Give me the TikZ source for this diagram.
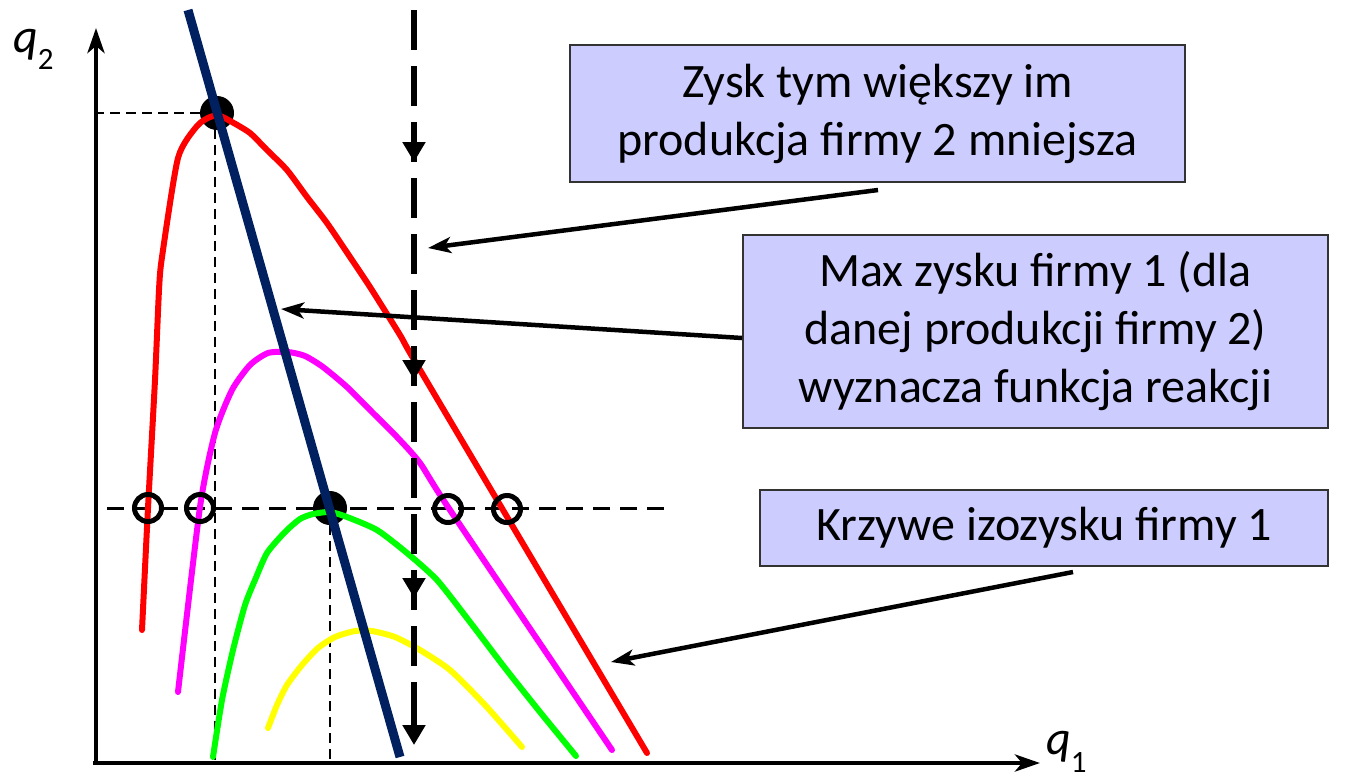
\documentclass[tikz,border=0pt]{standalone}
\usepackage{fontspec}
\setmainfont{Carlito}
\usetikzlibrary{arrows.meta}
\definecolor{lavender}{HTML}{CCCCFF}
\definecolor{navyline}{HTML}{002060}
\definecolor{isored}{HTML}{FF0000}
\definecolor{isomagenta}{HTML}{FF00FF}
\definecolor{isogreen}{HTML}{00FF00}
\definecolor{isoyellow}{HTML}{FFFF00}
\begin{document}
\begin{tikzpicture}[x=1pt,y=-1pt,
  axis/.style={line width=4.5pt,-{Stealth[length=25pt,width=17pt,inset=7pt]}},
  pointer/.style={line width=4.5pt,-{Stealth[length=23pt,width=16pt,inset=6pt]}},
  guide/.style={line width=2.8pt,dash pattern=on 10pt off 6pt},
  levelguide/.style={line width=3pt,dash pattern=on 17pt off 10pt},
  shiftline/.style={line width=6.5pt,dash pattern=on 40pt off 16pt},
  shifttip/.style={line width=6.5pt,-{Triangle[length=20pt,width=22pt]}},
  iso/.style={line width=6pt,line cap=round,line join=round},
  note/.style={draw=black!80,line width=2pt,fill=lavender,align=center,inner sep=0pt,
    font=\fontsize{48}{58}\selectfont},
  dot/.style={circle,fill=black,minimum size=34pt,inner sep=0pt},
  ring/.style={circle,draw=black,line width=5pt,minimum size=27pt,inner sep=0pt},
  axlabel/.style={inner sep=0pt,anchor=base west}]
\useasboundingbox (0,0) rectangle (1365,780);

% axes
\coordinate (O) at (96,763);
\coordinate (ytop) at (96,28);
\coordinate (xend) at (1040,763);
\draw[axis] (93,763) -- (xend);
\draw[axis] (O) -- (ytop);
\node[axlabel] (lq2) at (13,52) {\fontsize{48}{48}\selectfont\itshape q\upshape\fontsize{31}{31}\selectfont\raisebox{-17pt}{2}};
\node[axlabel] (lq1) at (1046,754) {\fontsize{48}{48}\selectfont\itshape q\upshape\fontsize{31}{31}\selectfont\raisebox{-18pt}{1}};

% equilibrium points
\node[dot] (eqA) at (217,113) {};
\node[dot] (eqB) at (330,508) {};
\coordinate (eqAy) at (97,113);
\coordinate (eqAx) at (215,760);
\coordinate (eqBx) at (330,760);
\coordinate (lvlL) at (107,508);
\coordinate (lvlR) at (670,508);

% guide lines
\draw[guide] (eqA.west) -- (eqAy);
\draw[guide] (215,129) -- (eqAx);
\draw[guide] (eqB.south) -- (eqBx);
\draw[levelguide] (lvlL) -- (lvlR);

% isoprofit curves of firm 1
\draw[iso,isored] plot[smooth,tension=0.4] coordinates {
  (142,630) (148,508) (155,380) (159,290) (162,257) (178,158) (197,126) (210,117)
  (220,116) (232,122) (250,133) (267,150) (287,170) (307,197) (327,223) (350,257)
  (370,287) (400,335) (413,358) (503,510) (647,753)};
\draw[iso,isomagenta] plot[smooth,tension=0.4] coordinates {
  (178,692) (200,507) (215,433) (232,390) (250,365) (268,353) (288,352) (305,356)
  (323,367) (347,387) (373,413) (397,437) (420,463) (450,510) (612,750)};
\draw[iso,isogreen] plot[smooth,tension=0.4] coordinates {
  (213,757) (222,700) (233,650) (245,605) (255,580) (267,553) (285,532) (300,519)
  (313,514) (330,512) (347,517) (377,530) (407,553) (437,580) (470,622) (505,668)
  (540,712) (576,756)};
\draw[iso,isoyellow] plot[smooth,tension=0.4] coordinates {
  (268,728) (277,705) (287,685) (302,665) (318,648) (335,637) (355,631) (372,631)
  (395,637) (420,650) (450,670) (485,705) (522,747)};

% shifting output of firm 2
\coordinate (sTop) at (414,10);
\coordinate (sBot) at (414,726);
\draw[shiftline] (sTop) -- (sBot);
\foreach \t in {162,380,598,745}{
  \draw[shifttip] (414,\t-26) -- (414,\t);
}

% reaction function of firm 1
\coordinate (rTop) at (188,10);
\coordinate (rBot) at (400,757);
\draw[line width=9pt,navyline] (rTop) -- (rBot);

% intersections with the level line
\node[ring] (r1) at (148,508) {};
\node[ring] (r2) at (200,508) {};
\node[ring] (r3) at (448,509) {};
\node[ring] (r4) at (507,509) {};

% notes
\node[note,minimum width=615pt,minimum height=137pt] (b1) at (877.5,113.5)
  {Zysk tym większy im\\produkcja firmy 2 mniejsza};
\node[note,minimum width=585pt,minimum height=193pt] (b2) at (1035.5,331.5)
  {Max zysku firmy 1 (dla\\danej produkcji firmy 2)\\wyznacza funkcja reakcji};
\node[note,minimum width=568pt,minimum height=76pt] (b3) at (1044,528)
  {Krzywe izozysku firmy 1};

% pointers
\coordinate (p1s) at (878,190);
\coordinate (p1e) at (428,248);
\coordinate (p2s) at (b2.west |- 0,338);
\coordinate (p2e) at (281,309);
\coordinate (p3s) at (1073,572);
\coordinate (p3e) at (611,662);
\draw[pointer] (p1s) -- (p1e);
\draw[pointer] (p2s) -- (p2e);
\draw[pointer] (p3s) -- (p3e);
\end{tikzpicture}
\end{document}
